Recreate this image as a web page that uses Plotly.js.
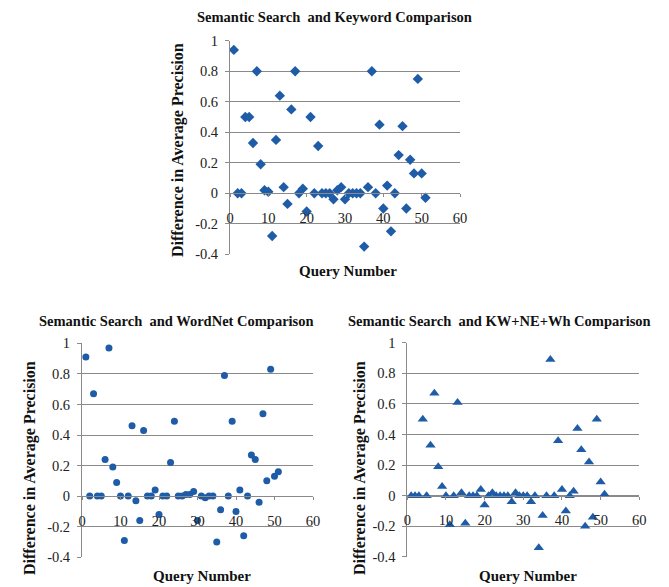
<!DOCTYPE html>
<html>
<head>
<meta charset="utf-8">
<script src="https://cdn.plot.ly/plotly-3.0.1.min.js"></script>
<style>html,body{margin:0;padding:0;background:#fff;}#chart{width:669px;height:587px;}</style>
</head>
<body>
<div id="chart"></div>
<script>
// Query numbers (x values)
const queryNumbers = [1,2,3,4,5,6,7,8,9,10,11,12,13,14,15,16,17,18,19,20,21,22,23,24,25,26,27,28,29,30,31,32,33,34,35,36,37,38,39,40,41,42,43,44,45,46,47,48,49,50,51];

// Difference in average precision: Semantic Search vs Keyword
const keywordDiff = [0.94,0,0,0.5,0.5,0.33,0.8,0.19,0.02,0.01,-0.28,0.35,0.64,0.04,-0.07,0.55,0.8,0,0.03,-0.12,0.5,0,0.31,0,0,0,-0.04,0.02,0.04,-0.04,0,0,0,0,-0.35,0.04,0.8,0,0.45,-0.1,0.05,-0.25,0,0.25,0.44,-0.1,0.22,0.13,0.75,0.13,-0.03];

// Semantic Search vs WordNet
const wordnetDiff = [0.91,0,0.67,0,0,0.24,0.97,0.19,0.09,0,-0.29,0,0.46,-0.03,-0.16,0.43,0,0,0.04,-0.12,0,0,0.22,0.49,0,0,0.01,0.01,0.03,-0.16,0,-0.01,0,0,-0.3,-0.09,0.79,0,0.49,-0.1,0.04,-0.26,0,0.27,0.24,-0.04,0.54,0.1,0.83,0.13,0.16];

// Semantic Search vs KW+NE+Wh
const kwneDiff = [0,0,0,0.5,0,0.33,0.67,0.19,0.06,0,-0.19,0,0.61,0.02,-0.18,0,0,0,0.04,-0.06,0,0.02,0,0,0,0,-0.04,0.02,0,0,0,-0.04,0,-0.34,-0.13,0,0.89,0,0.36,0.04,-0.1,0,0.03,0.44,0.3,-0.2,0.22,-0.14,0.5,0.09,0.01];

// Tick labels
const yTickVals = [-0.4,-0.2,0,0.2,0.4,0.6,0.8,1];
const yTickText = ["-0.4","-0.2","0","0.2","0.4","0.6","0.8","1"];
const xTickVals = [0,10,20,30,40,50,60];
const xTickText = ["0","10","20","30","40","50","60"];

const chartTitles = ["Semantic Search  and Keyword Comparison","Semantic Search  and WordNet Comparison","Semantic Search  and KW+NE+Wh Comparison"];
const xTitle = "Query Number";
const yTitle = "Difference in Average Precision";

const W = 669, H = 587;
const px = v => v / W;
const py = v => 1 - v / H;

const markerColor = '#1f5ca8';
const gridColor = '#8a8a8a';
const serif = 'Liberation Serif, Times New Roman, serif';

const traces = [
  {x: queryNumbers, y: keywordDiff, xaxis: 'x', yaxis: 'y', mode: 'markers', type: 'scatter',
   marker: {symbol: 'diamond', size: 8, color: markerColor}},
  {x: queryNumbers, y: wordnetDiff, xaxis: 'x2', yaxis: 'y2', mode: 'markers', type: 'scatter',
   marker: {symbol: 'circle', size: 7, color: markerColor}},
  {x: queryNumbers, y: kwneDiff, xaxis: 'x3', yaxis: 'y3', mode: 'markers', type: 'scatter',
   marker: {symbol: 'triangle-up', size: 9, color: markerColor}}
];

// plot boxes in pixels: [left, right, top(y=1), bottom(y=-0.4)]
const boxes = [
  [230, 460, 40.7, 254.3],
  [82, 313, 343.3, 557.3],
  [407.3, 639.3, 342.7, 557]
];

const layout = {
  width: W, height: H,
  margin: {l: 0, r: 0, t: 0, b: 0},
  paper_bgcolor: '#fff', plot_bgcolor: 'rgba(0,0,0,0)',
  showlegend: false,
  font: {family: serif, color: '#111', size: 13},
  annotations: []
};

boxes.forEach((b, i) => {
  const s = i === 0 ? '' : String(i + 1);
  const [l, r, t, bt] = b;
  const zeroY = t + (bt - t) * (1 / 1.4);
  layout['xaxis' + s] = {
    domain: [px(l), px(r)], range: [0, 60], anchor: 'free', position: py(zeroY),
    tickvals: xTickVals, ticktext: xTickText, ticks: 'outside', ticklen: 3, tickcolor: gridColor,
    showline: true, linecolor: gridColor, linewidth: 1, showgrid: false, zeroline: false,
    tickfont: {family: serif, size: 14.5, color: '#222'}, ticklabelstandoff: 8, fixedrange: true
  };
  layout['yaxis' + s] = {
    domain: [py(bt), py(t)], range: [-0.4005, 1.0005], anchor: 'x' + s,
    tickvals: yTickVals, ticktext: yTickText, ticks: 'outside', ticklen: 4, tickcolor: gridColor,
    showline: true, linecolor: gridColor, linewidth: 1, showgrid: true, gridcolor: gridColor, gridwidth: 1,
    zeroline: false, tickfont: {family: serif, size: 14.5, color: '#222'}, ticklabelstandoff: 4, fixedrange: true
  };
  // overlay axis for crossing tick marks
  layout['xaxis' + (i + 4)] = {
    domain: [px(l), px(r)], range: [0, 60], anchor: 'free', position: py(zeroY), overlaying: 'x' + s,
    tickvals: xTickVals, ticks: 'inside', ticklen: 3, tickcolor: gridColor, showticklabels: false,
    showline: false, showgrid: false, zeroline: false, fixedrange: true
  };
});

// titles
const titlePos = [[334, 17], [176, 321], [499, 321]];
const xTitlePos = [[348, 271], [202, 576], [528, 576]];
const yTitlePos = [[178, 150], [30, 468], [360, 468]];
for (let i = 0; i < 3; i++) {
  layout.annotations.push({text: '<b>' + chartTitles[i] + '</b>', x: px(titlePos[i][0]), y: py(titlePos[i][1]),
    xref: 'paper', yref: 'paper', showarrow: false, xanchor: 'center', yanchor: 'middle',
    font: {family: serif, size: 14.5, color: '#111'}});
  layout.annotations.push({text: '<b>' + xTitle + '</b>', x: px(xTitlePos[i][0]), y: py(xTitlePos[i][1]),
    xref: 'paper', yref: 'paper', showarrow: false, xanchor: 'center', yanchor: 'middle',
    font: {family: serif, size: 15, color: '#111'}});
  layout.annotations.push({text: '<b>' + yTitle + '</b>', x: px(yTitlePos[i][0]), y: py(yTitlePos[i][1]),
    xref: 'paper', yref: 'paper', showarrow: false, xanchor: 'center', yanchor: 'middle', textangle: -90,
    font: {family: serif, size: 16, color: '#111'}});
}

Plotly.newPlot('chart', traces, layout, {displayModeBar: false, staticPlot: true});
</script>
</body>
</html>
